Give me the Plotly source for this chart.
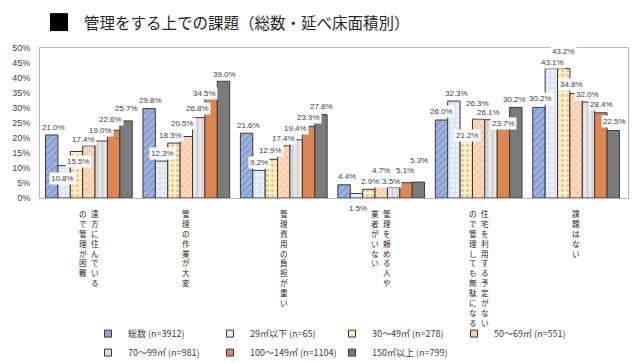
import plotly.graph_objects as go

# ---------------- data ----------------
CATEGORIES = [
    "遠方に住んでいるので管理が困難",
    "管理の作業が大変",
    "管理費用の負担が重い",
    "管理を頼める人や業者がいない",
    "住宅を利用する予定がないので管理しても無駄になる",
    "課題はない",
]
# vertical label columns (right column first, read right-to-left)
CATEGORY_COLUMNS = [
    ["遠方に住んでいる", "ので管理が困難"],
    ["管理の作業が大変"],
    ["管理費用の負担が重い"],
    ["管理を頼める人や", "業者がいない"],
    ["住宅を利用する予定がない", "ので管理しても無駄になる"],
    ["課題はない"],
]
SERIES_NAMES = [
    "総数 (n=3912)",
    "29㎡以下 (n=65)",
    "30～49㎡ (n=278)",
    "50～69㎡ (n=551)",
    "70～99㎡ (n=981)",
    "100～149㎡ (n=1104)",
    "150㎡以上 (n=799)",
]
VAL_TOTAL = [21.0, 29.8, 21.6, 4.4, 26.0, 30.2]
VAL_29 = [10.8, 12.3, 9.2, 1.5, 32.3, 43.1]
VAL_30_49 = [15.5, 18.3, 12.9, 2.9, 21.2, 43.2]
VAL_50_69 = [17.4, 20.5, 17.4, 4.7, 26.3, 34.8]
VAL_70_99 = [19.0, 26.8, 19.4, 3.5, 26.1, 32.0]
VAL_100_149 = [22.6, 34.5, 23.9, 5.1, 23.7, 28.4]
VAL_150 = [25.7, 39.0, 27.8, 5.3, 30.2, 22.5]
SERIES_VALUES = [VAL_TOTAL, VAL_29, VAL_30_49, VAL_50_69, VAL_70_99, VAL_100_149, VAL_150]
Y_TICKS = [0, 5, 10, 15, 20, 25, 30, 35, 40, 45, 50]
Y_TICK_LABELS = [f"{t}%" for t in Y_TICKS]

# ---------------- styles ----------------
STYLES = [
    dict(bg="#9DB4E0", fg="#5F80C6", shape="/", legend="#8EA8DA"),
    dict(bg="#DCE5F3", fg="#FFFFFF", shape=".", legend="#E4EBF6"),
    dict(bg="#FFF0C6", fg="#C8A664", shape=".", legend="#FBE9BE"),
    dict(bg="#F9CBA6", fg="#FFFFFF", shape="x", legend="#F8CDAA"),
    dict(bg="#E6E6E6", fg="#B4B4B4", shape="|", legend="#DCDCDC"),
    dict(bg="#DF8550", fg=None, shape="", legend="#DF8550"),
    dict(bg="#7B7B7B", fg=None, shape="", legend="#7B7B7B"),
]
# data-label displacement in pixels (dx right, dy down) relative to bar top centre
LABEL_DX = [
    [2, -1, 2, -5, -1, -3, 0],
    [2, 1, -3, -4, -1, -7, 1],
    [2, 0, -1, 0, -1, 0, 0],
    [3, 2, 1, 0, -3, -1, 0],
    [0, 3, 1, -1, -3, 0, -2],
    [2, 1, 0, -5, -1, 0, 1],
]
LABEL_DY = [
    [-8, 13, 10, -6, -11, -11, -12],
    [-8, -8, -8, -13, -9, -1, -7],
    [-8, -8, -9, -7, -11, -9, -8],
    [-8, 15, -8, -13, -6, -12, -22],
    [-9, -8, 1, -16, -7, -3, -8],
    [-9, -6, -17, -9, -8, -8, -9],
]

# page body has an 8px margin: figure origin sits at (8, 8) of the window
OFF = 8
W, H = 640 - OFF, 363 - OFF
M_L, M_R, M_T = 40 - OFF, 12, 48 - OFF
M_B = H - (198.5 - OFF)
PLOT_W = W - M_L - M_R
PLOT_H = H - M_T - M_B
BARGAP = 0.11
TEXT = "#404040"
JP = "Noto Sans CJK JP"


def px_x(x_abs):
    return (x_abs - OFF - M_L) / PLOT_W


def px_y(y_abs):
    return (H - M_B - (y_abs - OFF)) / PLOT_H


fig = go.Figure()
for i, (name, vals, st) in enumerate(zip(SERIES_NAMES, SERIES_VALUES, STYLES)):
    marker = dict(color=st["bg"], line=dict(color="#3A3A3A", width=1))
    if st["shape"]:
        marker["pattern"] = dict(shape=st["shape"], fgcolor=st["fg"], bgcolor=st["bg"],
                                 size=5, solidity=0.35)
    fig.add_trace(go.Bar(x=CATEGORIES, y=vals, name=name, marker=marker,
                         showlegend=False, hoverinfo="skip"))
    # legend proxy with small square symbol
    fig.add_trace(go.Scatter(x=[None], y=[None], mode="markers", name=name,
                             marker=dict(symbol="square", size=7, color=st["legend"],
                                         line=dict(color="#3A3A3A", width=1))))

cat_w = PLOT_W / len(CATEGORIES)
n_series = len(SERIES_VALUES)
bar_w = cat_w * (1 - BARGAP) / n_series

annotations = []
# data labels
for s, vals in enumerate(SERIES_VALUES):
    for c, v in enumerate(vals):
        annotations.append(dict(
            x=CATEGORIES[c], y=v, xref="x", yref="y",
            text=f"{v:.1f}%", showarrow=False,
            xshift=(s - (n_series - 1) / 2) * bar_w + LABEL_DX[c][s],
            yshift=-LABEL_DY[c][s],
            font=dict(family="Liberation Sans, Arial", size=8, color=TEXT),
            bgcolor="white", borderpad=1,
        ))

# vertical category labels
for c, cols in enumerate(CATEGORY_COLUMNS):
    k = len(cols)
    for j, col in enumerate(cols):
        shift = 0 if k == 1 else (6 if j == 0 else -6)
        annotations.append(dict(
            x=CATEGORIES[c], y=0, xref="x", yref="paper",
            xanchor="center", yanchor="top", xshift=shift, yshift=-8,
            text="<br>".join(list(col)), showarrow=False,
            font=dict(family=JP, size=7.6, color="#262626"), align="center",
        ))

# title
annotations.append(dict(
    x=px_x(82), y=px_y(22), xref="paper", yref="paper",
    xanchor="left", yanchor="middle", showarrow=False,
    text="管理をする上での課題（総数・延べ床面積別）",
    font=dict(family=JP, size=15.5, color="#262626"),
))

shapes = [dict(
    type="rect", xref="paper", yref="paper",
    x0=px_x(50), x1=px_x(68), y0=px_y(31), y1=px_y(13),
    fillcolor="black", line=dict(width=0),
)]

fig.update_layout(
    width=W, height=H,
    margin=dict(l=M_L, r=M_R, t=M_T, b=M_B, autoexpand=False),
    paper_bgcolor="white", plot_bgcolor="white",
    barmode="group", bargap=BARGAP, bargroupgap=0,
    annotations=annotations, shapes=shapes,
    showlegend=True,
    legend=dict(orientation="h", x=px_x(88), xanchor="left",
                y=px_y(320), yanchor="top",
                entrywidth=77, entrywidthmode="pixels",
                font=dict(family=JP, size=9, color=TEXT),
                itemwidth=30, tracegroupgap=0, bgcolor="rgba(0,0,0,0)"),
    font=dict(family="Liberation Sans, Arial", color=TEXT),
)
fig.update_xaxes(type="category", showticklabels=False, showgrid=False, ticks="",
                 showline=True, linecolor="#B8B8B8", linewidth=1, mirror=True,
                 zeroline=False)
fig.update_yaxes(range=[0, 50], tickmode="array", tickvals=Y_TICKS, ticktext=Y_TICK_LABELS,
                 showgrid=False, automargin=False,
                 showline=True, linecolor="#B8B8B8", linewidth=1, mirror=True,
                 ticklabelstandoff=7, zeroline=False,
                 tickfont=dict(family="Liberation Sans, Arial", size=9, color=TEXT))

fig.write_html("out.html")
